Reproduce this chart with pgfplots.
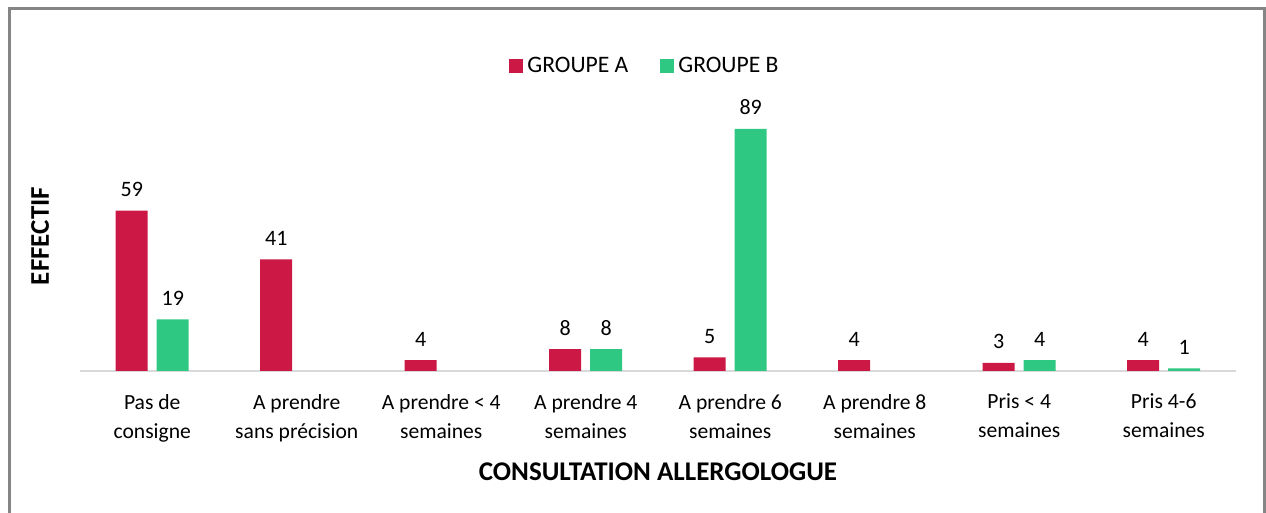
\documentclass[border=0pt]{standalone}
\usepackage{fontspec}
\setmainfont{Carlito}
\usepackage{pgfplots}
\pgfplotsset{compat=1.18}
\definecolor{grpA}{HTML}{CC1844}
\definecolor{grpB}{HTML}{2EC882}
\definecolor{axisgray}{HTML}{D9D9D9}
\definecolor{framegray}{HTML}{858585}
\begin{document}
\begin{tikzpicture}
% picture units: 1 px of the reference = 0.5pt, origin at bottom left
\useasboundingbox (0,0) rectangle (633pt,256.5pt);
\draw[framegray,line width=1.2pt] (4.75pt,-5pt) -- (4.75pt,252.25pt) -- (632.25pt,252.25pt) -- (632.25pt,-5pt);
\begin{axis}[
  at={(40pt,71pt)},anchor=south west,
  scale only axis,width=578pt,height=136pt,
  ybar,bar width=16pt,
  xmin=-0.5,xmax=7.5,ymin=0,ymax=100,
  axis x line*=bottom,axis y line=none,
  x axis line style={axisgray,line width=0.8pt,-},
  xtick={0,...,7},major tick length=0pt,
  xticklabels={{Pas de\\consigne},{A prendre\\sans précision},{A prendre < 4\\semaines},{A prendre 4\\semaines},{A prendre 6\\semaines},{A prendre 8\\semaines},{Pris < 4\\semaines},{Pris 4-6\\semaines}},
  xticklabel style={align=center,font=\fontsize{10.8}{14.5}\selectfont,yshift=-8pt},
  nodes near coords,
  every node near coord/.append style={font=\fontsize{11}{13}\selectfont,yshift=3.5pt,black},
  /pgf/number format/assume math mode=true,
  legend style={at={(rel axis cs:0.4896,1.12)},anchor=center,draw=none,
    legend columns=2,font=\fontsize{11.8}{14}\selectfont,
    /tikz/every even column/.append style={column sep=14pt}},
  legend image code/.code={\fill[#1] (0pt,-3.5pt) rectangle (7pt,3.5pt);},
]
\addplot[fill=grpA,draw=none,bar shift=-10.25pt] coordinates {(0,59) (1,41) (2,4) (3,8) (4,5) (5,4) (6,3) (7,4)};
\addplot[fill=grpB,draw=none,bar shift=10.25pt] coordinates {(0,19) (3,8) (4,89) (6,4) (7,1)};
\legend{GROUPE A,GROUPE B}
\end{axis}
\node[font=\bfseries\fontsize{13.5}{16}\selectfont] at (329pt,20.5pt) {CONSULTATION ALLERGOLOGUE};
\node[font=\bfseries\fontsize{13.5}{16}\selectfont,rotate=90] at (20pt,138.5pt) {EFFECTIF};
\end{tikzpicture}
\end{document}
